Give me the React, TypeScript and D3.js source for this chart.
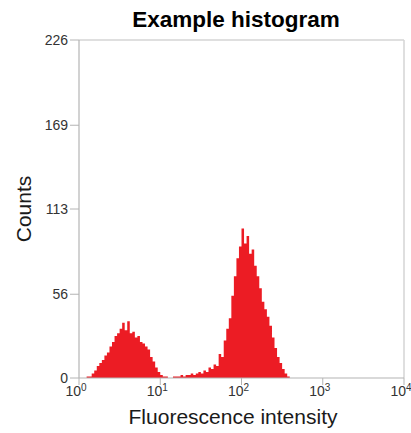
import React from "react";
import * as d3 from "d3";

const title = "Example histogram";
const xLabel = "Fluorescence intensity";
const yLabel = "Counts";
const yTicks = [0, 56, 113, 169, 226];
const xTickExps = [0, 1, 2, 3, 4];
const binsPerDecade = 32;
const counts = [
  0, 0, 0, 1, 1, 3, 5, 8, 10, 12, 15, 17, 21, 24, 28, 30, 33, 37, 32, 38,
  30, 31, 27, 28, 24, 23, 21, 19, 14, 11, 7, 4, 2, 1, 1, 0, 0, 1, 1, 1,
  2, 1, 2, 2, 3, 2, 3, 4, 3, 5, 4, 7, 6, 9, 8, 16, 14, 25, 33, 40,
  55, 68, 80, 88, 100, 90, 95, 83, 86, 75, 68, 60, 51, 46, 41, 35, 27, 20, 14, 10,
  6, 3, 1, 0,
];

const W = 411;
const H = 433;
const FONT = "'Liberation Sans', Arial, Helvetica, sans-serif";

export default function App() {
  const x = d3.scaleLog().domain([1, 10000]).range([79, 404]);
  const y = d3.scaleLinear().domain([0, 226]).range([378, 40]);

  const pts: [number, number][] = counts.map((c, k) => [Math.pow(10, k / binsPerDecade), c]);
  pts.push([Math.pow(10, counts.length / binsPerDecade), 0]);

  const area = d3
    .area<[number, number]>()
    .x((d) => x(d[0]))
    .y0(y(0))
    .y1((d) => y(d[1]))
    .curve(d3.curveStepAfter);

  const axisColor = "#b4b4b4";
  const [x0, x1] = x.range();
  const [yb, yt] = y.range();

  return (
    <svg width={W} height={H} style={{ position: "absolute", left: 0, top: 0 }} fontFamily={FONT}>
      <rect width={W} height={H} fill="#fff" />
      <text x={236} y={27} textAnchor="middle" fontSize={22.5} fontWeight="bold" fill="#000">
        {title}
      </text>
      {/* frame */}
      <line x1={x0} x2={x1} y1={yt} y2={yt} stroke="#d4d4d4" strokeWidth={1.5} />
      <line x1={x1} x2={x1} y1={yt} y2={yb} stroke="#d4d4d4" strokeWidth={1.5} />
      <path d={area(pts) || ""} fill="#ec1c24" />
      <line x1={x0} x2={x1} y1={yb} y2={yb} stroke={axisColor} strokeWidth={1.2} />
      <line x1={x0} x2={x0} y1={yt} y2={yb} stroke={axisColor} strokeWidth={1.2} />
      {yTicks.map((t) => (
        <g key={t}>
          <line x1={x0 - 9} x2={x0} y1={y(t)} y2={y(t)} stroke={axisColor} strokeWidth={1} />
          <text x={x0 - 11} y={y(t) + 5} textAnchor="end" fontSize={14} fill="#333">
            {t}
          </text>
        </g>
      ))}
      {xTickExps.map((e) => {
        const px = x(Math.pow(10, e));
        return (
          <g key={e}>
            <line x1={px} x2={px} y1={yb} y2={yb + 7} stroke={axisColor} strokeWidth={1} />
            <text x={px - 3} y={yb + 18} textAnchor="middle" fontSize={14} fill="#333">
              10
              <tspan fontSize={10} dy={-5}>
                {e}
              </tspan>
            </text>
          </g>
        );
      })}
      <text x={233} y={424} textAnchor="middle" fontSize={21} fill="#1a1a1a">
        {xLabel}
      </text>
      <text
        transform={`translate(31, ${(yt + yb) / 2}) rotate(-90)`}
        textAnchor="middle"
        fontSize={21}
        fill="#1a1a1a"
      >
        {yLabel}
      </text>
    </svg>
  );
}
